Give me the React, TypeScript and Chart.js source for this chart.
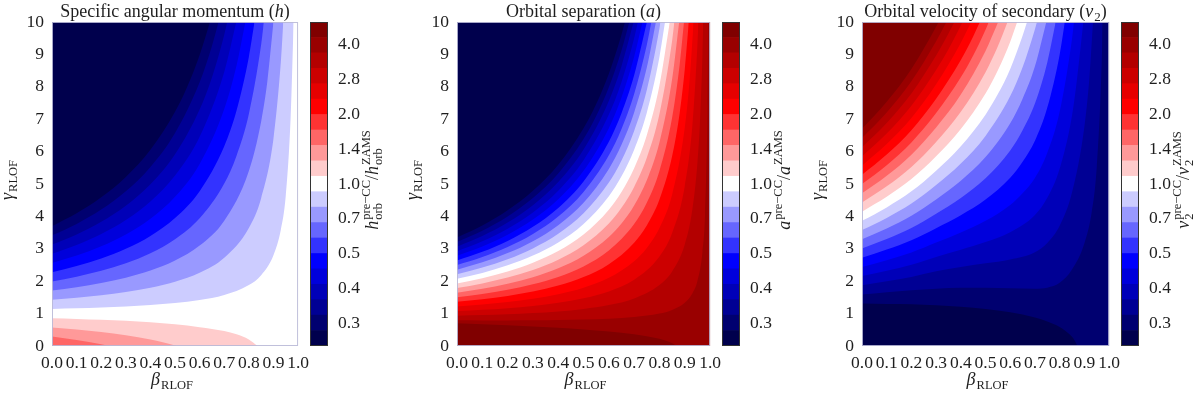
import React, { useEffect, useRef } from 'react';
import { Chart, registerables } from 'chart.js';
Chart.register(...registerables);

// ---------------- axis / colour-bar values ----------------
const BETA_TICKS = [0, 0.1, 0.2, 0.3, 0.4, 0.5, 0.6, 0.7, 0.8, 0.9, 1.0];
const GAMMA_TICKS = [0, 1, 2, 3, 4, 5, 6, 7, 8, 9, 10];
const CBAR_LEVELS = [0.2, 0.2331, 0.2718, 0.3168, 0.3693, 0.4304, 0.5017, 0.5848, 0.6817, 0.7946, 0.9263,
  1.0797, 1.2586, 1.4671, 1.7101, 1.9934, 2.3237, 2.7086, 3.1573, 3.6803, 4.29, 5.0];
const CBAR_TICKS = [0.25, 0.3536, 0.5, 0.7071, 1.0, 1.4142, 2.0, 2.8284, 4.0];
const CBAR_TICK_LABELS = ['0.3', '0.4', '0.5', '0.7', '1.0', '1.4', '2.0', '2.8', '4.0'];

type P = [number, number][];

// ---------------- panel 1: h  (contour boundaries, [beta, gamma]) ----------------
const H_B1: P = [[0, 3.699], [0.1, 4.095], [0.2, 4.588], [0.3, 5.219], [0.4, 6.056], [0.5, 7.228], [0.55, 8.007], [0.6, 8.979], [0.642, 10]];
const H_B2: P = [[0, 3.415], [0.1, 3.769], [0.2, 4.21], [0.3, 4.774], [0.4, 5.524], [0.5, 6.573], [0.6, 8.139], [0.65, 9.258], [0.677, 10]];
const H_B3: P = [[0, 3.13], [0.1, 3.443], [0.2, 3.832], [0.3, 4.33], [0.4, 4.992], [0.5, 5.917], [0.6, 7.299], [0.65, 8.287], [0.7, 9.605], [0.712, 10]];
const H_B4: P = [[0, 2.846], [0.1, 3.118], [0.2, 3.455], [0.3, 3.886], [0.4, 4.459], [0.5, 5.261], [0.6, 6.459], [0.7, 8.457], [0.749, 10]];
const H_B5: P = [[0, 2.562], [0.1, 2.792], [0.2, 3.077], [0.3, 3.442], [0.4, 3.927], [0.5, 4.606], [0.6, 5.62], [0.7, 7.311], [0.75, 8.658], [0.786, 10]];
const H_B6: P = [[0, 2.278], [0.1, 2.466], [0.2, 2.7], [0.3, 2.998], [0.4, 3.395], [0.5, 3.95], [0.6, 4.78], [0.7, 6.163], [0.75, 7.265], [0.8, 8.92], [0.823, 10]];
const H_B7: P = [[0, 1.994], [0.1, 2.14], [0.2, 2.322], [0.3, 2.554], [0.4, 2.863], [0.5, 3.295], [0.6, 3.94], [0.7, 5.016], [0.75, 5.873], [0.8, 7.16], [0.85, 9.305], [0.861, 10]];
const H_B8: P = [[0, 1.71], [0.1, 1.814], [0.2, 1.944], [0.3, 2.11], [0.4, 2.331], [0.5, 2.639], [0.6, 3.1], [0.7, 3.868], [0.8, 5.4], [0.85, 6.932], [0.875, 8.159], [0.9, 10]];
const H_B9: P = [[0, 1.426], [0.1, 1.489], [0.2, 1.566], [0.3, 1.666], [0.4, 1.798], [0.5, 1.983], [0.6, 2.26], [0.7, 2.721], [0.8, 3.64], [0.85, 4.559], [0.9, 6.398], [0.93, 8.762], [0.94, 10]];
const H_B10: P = [[0, 1.142], [0.1, 1.163], [0.2, 1.189], [0.3, 1.222], [0.4, 1.266], [0.5, 1.328], [0.6, 1.42], [0.7, 1.573], [0.8, 1.879], [0.85, 2.186], [0.9, 2.799], [0.93, 3.586], [0.95, 4.635], [0.97, 7.084], [0.982, 10]];
const H_P11: P = [[0, 0.858], [0.1, 0.837], [0.2, 0.811], [0.3, 0.778], [0.4, 0.734], [0.5, 0.672], [0.6, 0.58], [0.7, 0.46], [0.75, 0.36], [0.8, 0.2], [0.835, 0]];
const H_P12: P = [[0, 0.574], [0.1, 0.511], [0.2, 0.434], [0.3, 0.334], [0.4, 0.202], [0.45, 0.118], [0.507, 0]];
const H_P13: P = [[0, 0.29], [0.1, 0.186], [0.2, 0.056], [0.237, 0]];

// ---------------- panel 2: a ----------------
const A_B1: P = [[0, 3.35], [0.1, 3.722], [0.2, 4.188], [0.3, 4.789], [0.4, 5.591], [0.5, 6.718], [0.55, 7.467], [0.6, 8.404], [0.65, 9.61], [0.664, 10]];
const A_B2: P = [[0, 3.208], [0.1, 3.559], [0.2, 4.0], [0.3, 4.567], [0.4, 5.325], [0.5, 6.39], [0.55, 7.098], [0.6, 7.984], [0.65, 9.124], [0.681, 10]];
const A_B3: P = [[0, 3.066], [0.1, 3.396], [0.2, 3.811], [0.3, 4.345], [0.4, 5.059], [0.5, 6.062], [0.6, 7.564], [0.65, 8.638], [0.698, 10]];
const A_B4: P = [[0, 2.924], [0.1, 3.233], [0.2, 3.622], [0.3, 4.123], [0.4, 4.793], [0.5, 5.734], [0.6, 7.143], [0.65, 8.152], [0.7, 9.5], [0.715, 10]];
const A_B5: P = [[0, 2.782], [0.1, 3.071], [0.2, 3.433], [0.3, 3.901], [0.4, 4.527], [0.5, 5.407], [0.6, 6.724], [0.65, 7.667], [0.7, 8.927], [0.733, 10]];
const A_B6: P = [[0, 2.64], [0.1, 2.908], [0.2, 3.244], [0.3, 3.679], [0.4, 4.261], [0.5, 5.079], [0.6, 6.304], [0.65, 7.181], [0.7, 8.353], [0.7505, 10]];
const A_B7: P = [[0, 2.498], [0.1, 2.745], [0.2, 3.055], [0.3, 3.457], [0.4, 3.995], [0.5, 4.751], [0.6, 5.884], [0.65, 6.695], [0.7, 7.779], [0.75, 9.291], [0.768, 10]];
const A_B8: P = [[0, 2.356], [0.1, 2.582], [0.2, 2.867], [0.3, 3.235], [0.4, 3.729], [0.5, 4.423], [0.6, 5.464], [0.65, 6.209], [0.7, 7.206], [0.75, 8.594], [0.786, 10]];
const A_B9: P = [[0, 2.214], [0.1, 2.419], [0.2, 2.678], [0.3, 3.013], [0.4, 3.462], [0.5, 4.095], [0.6, 5.044], [0.65, 5.723], [0.7, 6.632], [0.75, 7.898], [0.8, 9.801], [0.804, 10]];
const A_B10: P = [[0, 2.072], [0.1, 2.256], [0.2, 2.489], [0.3, 2.791], [0.4, 3.196], [0.5, 3.767], [0.6, 4.624], [0.65, 5.237], [0.7, 6.058], [0.75, 7.202], [0.8, 8.921], [0.822, 10]];
const A_B11: P = [[0, 1.93], [0.1, 2.093], [0.2, 2.3], [0.3, 2.569], [0.4, 2.93], [0.5, 3.44], [0.6, 4.204], [0.65, 4.752], [0.7, 5.485], [0.75, 6.506], [0.8, 8.042], [0.841, 10]];
const A_B12: P = [[0, 1.788], [0.1, 1.93], [0.2, 2.111], [0.3, 2.347], [0.4, 2.664], [0.5, 3.112], [0.6, 3.784], [0.65, 4.266], [0.7, 4.911], [0.75, 5.81], [0.8, 7.162], [0.85, 9.417], [0.859, 10]];
const A_B13: P = [[0, 1.646], [0.1, 1.767], [0.2, 1.922], [0.3, 2.125], [0.4, 2.398], [0.5, 2.784], [0.6, 3.364], [0.65, 3.78], [0.7, 4.338], [0.75, 5.114], [0.8, 6.282], [0.85, 8.231], [0.878, 10]];
const A_B14: P = [[0, 1.504], [0.1, 1.604], [0.2, 1.734], [0.3, 1.903], [0.4, 2.132], [0.5, 2.456], [0.6, 2.944], [0.7, 3.764], [0.75, 4.418], [0.8, 5.402], [0.85, 7.044], [0.88, 8.687], [0.897, 10]];
const A_B15: P = [[0, 1.362], [0.1, 1.442], [0.2, 1.545], [0.3, 1.681], [0.4, 1.866], [0.5, 2.128], [0.6, 2.524], [0.7, 3.19], [0.75, 3.722], [0.8, 4.522], [0.85, 5.858], [0.88, 7.194], [0.9, 8.533], [0.916, 10]];
const A_B16: P = [[0, 1.22], [0.1, 1.279], [0.2, 1.356], [0.3, 1.459], [0.4, 1.6], [0.5, 1.8], [0.6, 2.104], [0.7, 2.616], [0.75, 3.025], [0.8, 3.642], [0.85, 4.671], [0.9, 6.733], [0.92, 8.277], [0.935, 10]];
const A_B17: P = [[0, 1.078], [0.1, 1.116], [0.2, 1.167], [0.3, 1.237], [0.4, 1.334], [0.5, 1.473], [0.6, 1.684], [0.7, 2.043], [0.8, 2.762], [0.85, 3.485], [0.9, 4.934], [0.93, 6.797], [0.95, 9.279], [0.954, 10]];
const A_B18: P = [[0, 0.936], [0.1, 0.953], [0.2, 0.978], [0.3, 1.015], [0.4, 1.067], [0.5, 1.145], [0.6, 1.264], [0.7, 1.469], [0.8, 1.882], [0.85, 2.299], [0.9, 3.135], [0.93, 4.21], [0.95, 5.641], [0.96, 6.899], [0.97, 8.992], [0.973, 10]];
const A_B19: P = [[0, 0.794], [0.1, 0.79], [0.2, 0.79], [0.3, 0.793], [0.4, 0.801], [0.5, 0.817], [0.6, 0.844], [0.7, 0.896], [0.8, 1.002], [0.85, 1.112], [0.9, 1.335], [0.93, 1.622], [0.95, 2.004], [0.97, 2.903], [0.98, 4.022], [0.99, 7.389], [0.993, 10]];
const A_P20: P = [[0, 0.7], [0.2, 0.64], [0.4, 0.56], [0.5, 0.51], [0.6, 0.45], [0.7, 0.36], [0.75, 0.3], [0.8, 0.22], [0.84, 0.12], [0.868, 0]];

// ---------------- panel 3: v2 ----------------
const V_P1: P = [[0, 1.31], [0.1, 1.3], [0.2, 1.29], [0.3, 1.26], [0.4, 1.21], [0.5, 1.14], [0.6, 1.04], [0.7, 0.88], [0.75, 0.76], [0.8, 0.59], [0.84, 0.36], [0.86, 0.18], [0.872, 0]];
const V_B2: P = [[0, 1.589], [0.1, 1.66], [0.2, 1.72], [0.3, 1.77], [0.4, 1.8], [0.5, 1.8], [0.6, 1.78], [0.7, 1.77], [0.75, 1.8], [0.8, 1.95], [0.85, 2.36], [0.9, 3.16], [0.93, 4.14], [0.95, 5.51], [0.97, 8.7], [0.974, 10]];
const V_B3: P = [[0, 1.873], [0.1, 1.998], [0.2, 2.13], [0.3, 2.304], [0.4, 2.439], [0.5, 2.552], [0.6, 2.673], [0.7, 2.895], [0.75, 3.182], [0.8, 3.712], [0.85, 4.734], [0.9, 6.758], [0.92, 8.24], [0.935, 10]];
const V_B4: P = [[0, 2.157], [0.1, 2.324], [0.2, 2.508], [0.3, 2.748], [0.4, 2.971], [0.5, 3.207], [0.6, 3.513], [0.7, 4.043], [0.75, 4.574], [0.8, 5.472], [0.85, 7.107], [0.87, 8.218], [0.896, 10]];
const V_B5: P = [[0, 2.441], [0.1, 2.649], [0.2, 2.885], [0.3, 3.192], [0.4, 3.503], [0.5, 3.863], [0.6, 4.353], [0.65, 4.717], [0.7, 5.189], [0.75, 5.966], [0.8, 7.231], [0.85, 9.478], [0.858, 10]];
const V_B6: P = [[0, 2.725], [0.1, 2.975], [0.2, 3.263], [0.3, 3.636], [0.4, 4.035], [0.5, 4.518], [0.6, 5.193], [0.65, 5.688], [0.7, 6.337], [0.75, 7.358], [0.8, 8.991], [0.821, 10]];
const V_B7: P = [[0, 3.009], [0.1, 3.301], [0.2, 3.64], [0.3, 4.08], [0.4, 4.568], [0.5, 5.174], [0.6, 6.033], [0.65, 6.66], [0.7, 7.484], [0.75, 8.75], [0.784, 10]];
const V_B8: P = [[0, 3.294], [0.1, 3.627], [0.2, 4.018], [0.3, 4.524], [0.4, 5.1], [0.5, 5.83], [0.6, 6.873], [0.65, 7.632], [0.7, 8.632], [0.746, 10]];
const V_B9: P = [[0, 3.578], [0.1, 3.952], [0.2, 4.396], [0.3, 4.968], [0.4, 5.632], [0.5, 6.485], [0.6, 7.713], [0.65, 8.603], [0.7, 9.779], [0.708, 10]];
const V_B10: P = [[0, 3.862], [0.1, 4.278], [0.2, 4.773], [0.3, 5.412], [0.4, 6.165], [0.5, 7.141], [0.55, 7.774], [0.6, 8.553], [0.65, 9.575], [0.668, 10]];
const V_B11: P = [[0, 4.146], [0.1, 4.604], [0.2, 5.151], [0.3, 5.856], [0.4, 6.697], [0.5, 7.796], [0.55, 8.511], [0.6, 9.392], [0.628, 10]];
const V_B12: P = [[0, 4.43], [0.1, 4.93], [0.2, 5.528], [0.3, 6.3], [0.4, 7.229], [0.5, 8.452], [0.55, 9.248], [0.589, 10]];
const V_B13: P = [[0, 4.714], [0.1, 5.255], [0.2, 5.906], [0.3, 6.744], [0.4, 7.761], [0.5, 9.108], [0.551, 10]];
const V_B14: P = [[0, 4.998], [0.1, 5.581], [0.2, 6.284], [0.3, 7.188], [0.4, 8.293], [0.45, 8.967], [0.5, 9.763], [0.513, 10]];
const V_B15: P = [[0, 5.282], [0.1, 5.907], [0.2, 6.662], [0.3, 7.632], [0.4, 8.826], [0.45, 9.555], [0.477, 10]];
const V_B16: P = [[0, 5.566], [0.1, 6.233], [0.2, 7.039], [0.3, 8.076], [0.4, 9.358], [0.442, 10]];
const V_B17: P = [[0, 5.85], [0.1, 6.559], [0.2, 7.417], [0.3, 8.52], [0.35, 9.157], [0.407, 10]];
const V_B18: P = [[0, 6.134], [0.1, 6.884], [0.2, 7.794], [0.3, 8.964], [0.35, 9.642], [0.374, 10]];
const V_B19: P = [[0, 6.418], [0.1, 7.21], [0.2, 8.172], [0.3, 9.408], [0.342, 10]];
const V_B20: P = [[0, 6.702], [0.1, 7.536], [0.2, 8.55], [0.3, 9.852], [0.31, 10]];

// ---------------- styles ----------------
const BAND_COLORS = [
  'rgb(0,0,77)', 'rgb(0,0,112)', 'rgb(0,0,148)', 'rgb(0,0,184)', 'rgb(0,0,219)', 'rgb(0,0,255)',
  'rgb(51,51,255)', 'rgb(102,102,255)', 'rgb(153,153,255)', 'rgb(204,204,255)', 'rgb(255,255,255)',
  'rgb(255,204,204)', 'rgb(255,153,153)', 'rgb(255,102,102)', 'rgb(255,51,51)', 'rgb(255,0,0)',
  'rgb(230,0,0)', 'rgb(204,0,0)', 'rgb(179,0,0)', 'rgb(153,0,0)', 'rgb(128,0,0)',
];
const FONT = '"Liberation Serif", "Times New Roman", serif';
const TEXT = '#1e1e1e';
const PLOT_TOP = 22;
const PLOT_BOTTOM = 346;
const H = 395;
const Y_AXIS_W = 52;
const CBAR_W = 18;
const CBAR_CANVAS_W = 80;

type Seg = { t: string; it?: boolean; sup?: string; sub?: string };
type Layer = { pts: P; band: number; fill: 'start' | 'end' };
type Panel = {
  plotLeft: number; plotRight: number; cbarLeft: number; bg: number; xLabelCenter: number;
  title: Seg[]; cbarLabel: Seg[]; layers: Layer[];
};

const up = (pts: P, band: number): Layer => ({ pts, band, fill: 'end' });
const dn = (pts: P, band: number): Layer => ({ pts, band, fill: 'start' });

const PANELS: Panel[] = [
  {
    plotLeft: 52, plotRight: 302, cbarLeft: 310, bg: 10, xLabelCenter: 172,
    title: [{ t: 'Specific angular momentum (' }, { t: 'h', it: true }, { t: ')' }],
    cbarLabel: [{ t: 'h', it: true, sup: 'pre\u2212CC', sub: 'orb' }, { t: '/' }, { t: 'h', it: true, sup: 'ZAMS', sub: 'orb' }],
    layers: [up(H_B1, 0), up(H_B2, 1), up(H_B3, 2), up(H_B4, 3), up(H_B5, 4), up(H_B6, 5), up(H_B7, 6),
      up(H_B8, 7), up(H_B9, 8), up(H_B10, 9), dn(H_P13, 13), dn(H_P12, 12), dn(H_P11, 11)],
  },
  {
    plotLeft: 457, plotRight: 714, cbarLeft: 722, bg: 19, xLabelCenter: 585.5,
    title: [{ t: 'Orbital separation (' }, { t: 'a', it: true }, { t: ')' }],
    cbarLabel: [{ t: 'a', it: true, sup: 'pre\u2212CC' }, { t: '/' }, { t: 'a', it: true, sup: 'ZAMS' }],
    layers: [up(A_B1, 0), up(A_B2, 1), up(A_B3, 2), up(A_B4, 3), up(A_B5, 4), up(A_B6, 5), up(A_B7, 6),
      up(A_B8, 7), up(A_B9, 8), up(A_B10, 9), up(A_B11, 10), up(A_B12, 11), up(A_B13, 12), up(A_B14, 13),
      up(A_B15, 14), up(A_B16, 15), up(A_B17, 16), up(A_B18, 17), up(A_B19, 18), dn(A_P20, 20)],
  },
  {
    plotLeft: 862, plotRight: 1113, cbarLeft: 1121, bg: 1, xLabelCenter: 987.5,
    title: [{ t: 'Orbital velocity of secondary (' }, { t: 'v', it: true, sub: '2' }, { t: ')' }],
    cbarLabel: [{ t: 'v', it: true, sup: 'pre\u2212CC', sub: '2' }, { t: '/' }, { t: 'v', it: true, sup: 'ZAMS', sub: '2' }],
    layers: [up(V_B20, 20), up(V_B19, 19), up(V_B18, 18), up(V_B17, 17), up(V_B16, 16), up(V_B15, 15),
      up(V_B14, 14), up(V_B13, 13), up(V_B12, 12), up(V_B11, 11), up(V_B10, 10), up(V_B9, 9), up(V_B8, 8),
      up(V_B7, 7), up(V_B6, 6), up(V_B5, 5), up(V_B4, 4), up(V_B3, 3), up(V_B2, 2), dn(V_P1, 0)],
  },
];

// ---------------- text helpers ----------------
const fontStr = (size: number, italic = false) => `${italic ? 'italic ' : ''}${size}px ${FONT}`;

function drawRich(ctx: CanvasRenderingContext2D, segs: Seg[], x: number, y: number, size: number, small: number, align: 'center' | 'left') {
  const parts = segs.map((s) => {
    ctx.font = fontStr(size, s.it);
    const mw = ctx.measureText(s.t).width;
    ctx.font = fontStr(small);
    const sw = Math.max(s.sup ? ctx.measureText(s.sup).width : 0, s.sub ? ctx.measureText(s.sub).width : 0);
    const gap = s.sup || s.sub ? size * 0.06 : 0;
    return { mw, sw, gap };
  });
  const total = parts.reduce((a, p) => a + p.mw + p.gap + p.sw, 0);
  let cx = align === 'center' ? x - total / 2 : x;
  ctx.fillStyle = TEXT;
  ctx.textAlign = 'left';
  ctx.textBaseline = 'alphabetic';
  segs.forEach((s, i) => {
    ctx.font = fontStr(size, s.it);
    ctx.fillText(s.t, cx, y);
    cx += parts[i].mw + parts[i].gap;
    ctx.font = fontStr(small);
    if (s.sup) ctx.fillText(s.sup, cx, y - size * 0.42);
    if (s.sub) ctx.fillText(s.sub, cx, y + size * 0.24);
    cx += parts[i].sw;
  });
}

// ---------------- chart configs ----------------
function panelConfig(p: Panel): any {
  const canvasLeft = p.plotLeft - Y_AXIS_W;
  const datasets = p.layers.map((l) => ({
    data: l.pts.map(([x, y]) => ({ x, y })),
    backgroundColor: BAND_COLORS[l.band],
    borderColor: BAND_COLORS[l.band],
    borderWidth: 0,
    pointRadius: 0,
    pointHoverRadius: 0,
    fill: l.fill,
    cubicInterpolationMode: 'monotone',
  }));
  const bgPlugin = {
    id: 'bgArea',
    beforeDatasetsDraw(chart: any) {
      const { ctx, chartArea: a } = chart;
      ctx.save();
      ctx.fillStyle = BAND_COLORS[p.bg];
      ctx.fillRect(a.left, a.top, a.right - a.left, a.bottom - a.top);
      ctx.restore();
    },
  };
  const framePlugin = {
    id: 'frame',
    afterDatasetsDraw(chart: any) {
      const { ctx, chartArea: a } = chart;
      ctx.save();
      ctx.strokeStyle = 'rgba(185,185,215,0.9)';
      ctx.lineWidth = 1;
      ctx.strokeRect(a.left + 0.5, a.top + 0.5, a.right - a.left - 1, a.bottom - a.top - 1);
      ctx.restore();
    },
  };
  const textPlugin = {
    id: 'ptext',
    afterDraw(chart: any) {
      const { ctx, chartArea: a } = chart;
      ctx.save();
      drawRich(ctx, p.title, (a.left + a.right) / 2, 17, 18, 13, 'center');
      drawRich(ctx, [{ t: '\u03b2', it: true, sub: 'RLOF' }], p.xLabelCenter - canvasLeft, 385, 18, 12.5, 'center');
      ctx.translate(a.left - 39, 180);
      ctx.rotate(-Math.PI / 2);
      drawRich(ctx, [{ t: '\u03b3', it: true, sub: 'RLOF' }], 0, 0, 18, 12.5, 'center');
      ctx.restore();
    },
  };
  const tickFont = { family: FONT, size: 17.5 };
  return {
    type: 'line',
    data: { datasets },
    options: {
      animation: false,
      responsive: false,
      devicePixelRatio: 1,
      events: [],
      layout: { padding: { top: PLOT_TOP, right: 14, left: 0, bottom: 0 } },
      plugins: { legend: { display: false }, tooltip: { enabled: false }, filler: { propagate: false } },
      scales: {
        x: {
          type: 'linear', min: 0, max: 1,
          grid: { display: false, drawTicks: false }, border: { display: false },
          afterBuildTicks: (s: any) => { s.ticks = BETA_TICKS.map((v) => ({ value: v })); },
          afterFit: (s: any) => { s.height = H - PLOT_BOTTOM; },
          ticks: { callback: (v: any) => Number(v).toFixed(1), font: tickFont, color: TEXT, padding: 7, maxRotation: 0, minRotation: 0, autoSkip: false },
        },
        y: {
          type: 'linear', min: 0, max: 10,
          grid: { display: false, drawTicks: false }, border: { display: false },
          afterBuildTicks: (s: any) => { s.ticks = GAMMA_TICKS.map((v) => ({ value: v })); },
          afterFit: (s: any) => { s.width = Y_AXIS_W; },
          ticks: { callback: (v: any) => String(v), font: tickFont, color: TEXT, padding: 8, autoSkip: false },
        },
      },
    },
    plugins: [bgPlugin, framePlugin, textPlugin],
  };
}

function cbarConfig(p: Panel): any {
  const datasets = BAND_COLORS.map((c, i) => ({
    data: [[CBAR_LEVELS[i], CBAR_LEVELS[i + 1]]],
    backgroundColor: c,
    borderWidth: 0,
    grouped: false,
    barPercentage: 1,
    categoryPercentage: 1,
  }));
  const framePlugin = {
    id: 'cframe',
    afterDatasetsDraw(chart: any) {
      const { ctx, chartArea: a } = chart;
      ctx.save();
      ctx.strokeStyle = '#333';
      ctx.lineWidth = 1;
      ctx.strokeRect(a.left + 0.5, a.top + 0.5, a.right - a.left - 1, a.bottom - a.top - 1);
      ctx.restore();
    },
  };
  const labelPlugin = {
    id: 'clabel',
    afterDraw(chart: any) {
      const { ctx, chartArea: a } = chart;
      ctx.save();
      ctx.translate(a.right + 50, 180);
      ctx.rotate(-Math.PI / 2);
      drawRich(ctx, p.cbarLabel, 0, 0, 18, 12.5, 'center');
      ctx.restore();
    },
  };
  return {
    type: 'bar',
    data: { labels: [''], datasets },
    options: {
      animation: false,
      responsive: false,
      devicePixelRatio: 1,
      events: [],
      layout: { padding: { top: PLOT_TOP, bottom: H - PLOT_BOTTOM, left: 0, right: 0 } },
      plugins: { legend: { display: false }, tooltip: { enabled: false } },
      scales: {
        x: { display: false },
        y: {
          type: 'logarithmic', position: 'right', min: CBAR_LEVELS[0], max: CBAR_LEVELS[CBAR_LEVELS.length - 1],
          grid: { display: false, drawTicks: false }, border: { display: false },
          afterBuildTicks: (s: any) => { s.ticks = CBAR_TICKS.map((v) => ({ value: v })); },
          afterFit: (s: any) => { s.width = CBAR_CANVAS_W - CBAR_W; },
          ticks: {
            callback: (v: any) => { const i = CBAR_TICKS.indexOf(Number(v)); return i >= 0 ? CBAR_TICK_LABELS[i] : ''; },
            font: { family: FONT, size: 17.5 }, color: TEXT, padding: 10, autoSkip: false,
          },
        },
      },
    },
    plugins: [framePlugin, labelPlugin],
  };
}

function ChartCanvas({ left, width, make }: { left: number; width: number; make: () => any }) {
  const ref = useRef<HTMLCanvasElement>(null);
  useEffect(() => {
    const chart = new Chart(ref.current as HTMLCanvasElement, make());
    return () => chart.destroy();
  }, []);
  return <canvas ref={ref} width={width} height={H} style={{ position: 'absolute', left, top: 0, width, height: H }} />;
}

export default function App() {
  return (
    <div style={{ position: 'absolute', left: 0, top: 0, width: 1200, height: H, overflow: 'hidden', background: '#fff' }}>
      {PANELS.map((p, i) => (
        <React.Fragment key={i}>
          <ChartCanvas left={p.plotLeft - Y_AXIS_W} width={p.plotRight - p.plotLeft + Y_AXIS_W + 14} make={() => panelConfig(p)} />
          <ChartCanvas left={p.cbarLeft} width={CBAR_CANVAS_W} make={() => cbarConfig(p)} />
        </React.Fragment>
      ))}
    </div>
  );
}
